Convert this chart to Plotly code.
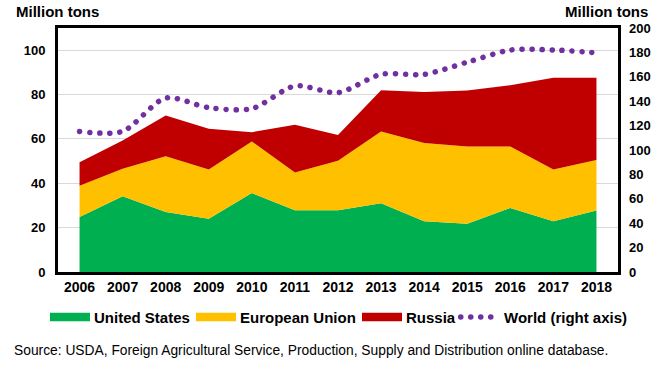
import plotly.graph_objects as go

years = list(range(2006, 2019))
us = [24.8, 34.2, 27.0, 24.0, 35.6, 27.8, 27.8, 31.0, 22.9, 21.7, 28.9, 22.9, 27.7]
eu_cum = [38.9, 46.5, 52.2, 46.2, 58.8, 44.9, 50.2, 63.3, 58.2, 56.6, 56.6, 46.2, 50.5]
ru_cum = [49.5, 59.3, 70.6, 64.6, 63.0, 66.4, 61.8, 81.9, 81.2, 81.8, 84.2, 87.6, 87.6]
world = [115.2, 115.3, 142.6, 134.7, 133.9, 152.5, 147.0, 162.0, 162.0, 172.0, 181.9, 182.0, 179.7]

eu = [round(e - u, 1) for e, u in zip(eu_cum, us)]
russia = [round(r - e, 1) for r, e in zip(ru_cum, eu_cum)]

left_ticks = [0, 20, 40, 60, 80, 100]
right_ticks = list(range(0, 201, 20))
series_names = ["United States", "European Union", "Russia", "World (right axis)"]

GREEN, YELLOW, RED, PURPLE = "#00B050", "#FFC000", "#C00000", "#7030A0"
FONT = "Liberation Sans, Arial, sans-serif"
DOTS = "0.1px,9.9px"

W, H = 660, 373
L, R, T, B = 58, 42, 28, 101
PW, PH = W - L - R, H - T - B


def px(x):
    return (x - L) / PW


def py(y):
    return (H - B - y) / PH


fig = go.Figure()
for name, vals, col in [(series_names[0], us, GREEN),
                        (series_names[1], eu, YELLOW),
                        (series_names[2], russia, RED)]:
    fig.add_trace(go.Scatter(x=years, y=vals, name=name, stackgroup="one",
                             mode="lines", line=dict(width=0, color=col),
                             fillcolor=col, showlegend=False))
fig.add_trace(go.Scatter(x=years, y=world, name=series_names[3], yaxis="y2",
                         mode="lines", showlegend=False,
                         line=dict(color=PURPLE, width=5.5, dash=DOTS,
                                   shape="spline", smoothing=0.8)))

bold15 = dict(size=15, family=FONT, weight="bold")
annotations = [
    dict(text="Million tons", xref="paper", yref="paper", x=px(14), y=py(12),
         xanchor="left", yanchor="middle", showarrow=False, font=bold15),
    dict(text="Million tons", xref="paper", yref="paper", x=px(650), y=py(12),
         xanchor="right", yanchor="middle", showarrow=False, font=bold15),
    dict(text="Source: USDA, Foreign Agricultural Service, Production, Supply and Distribution online database.",
         xref="paper", yref="paper", x=px(12), y=py(350), xanchor="left", yanchor="middle",
         showarrow=False, font=dict(size=13.8, family=FONT)),
]
shapes = []
# legend
leg_y = 317
swatches = [(50, GREEN, 92), (196, YELLOW, 238), (362, RED, 404)]
for (x0, col, tx), name in zip(swatches, series_names[:3]):
    shapes.append(dict(type="rect", xref="paper", yref="paper", x0=px(x0), x1=px(x0 + 40),
                       y0=py(leg_y - 4.3), y1=py(leg_y + 4.3), fillcolor=col,
                       line=dict(width=0)))
    annotations.append(dict(text=name, xref="paper", yref="paper", x=px(tx), y=py(leg_y),
                            xanchor="left", yanchor="middle", showarrow=False, font=bold15))
shapes.append(dict(type="line", xref="paper", yref="paper", x0=px(460.7), x1=px(490.8),
                   y0=py(leg_y), y1=py(leg_y),
                   line=dict(color=PURPLE, width=5.5, dash=DOTS)))
annotations.append(dict(text=series_names[3], xref="paper", yref="paper", x=px(502),
                        y=py(leg_y), xanchor="left", yanchor="middle", showarrow=False,
                        font=bold15))

fig.update_layout(
    width=W, height=H,
    margin=dict(l=L, r=R, t=T, b=B),
    paper_bgcolor="white", plot_bgcolor="white",
    font=dict(family=FONT, color="black"),
    showlegend=False,
    xaxis=dict(range=[2005.5, 2018.5], tickvals=years, ticktext=[str(y) for y in years],
               showgrid=False, zeroline=False, showline=True, linecolor="black",
               linewidth=3, mirror=True, ticks="", automargin=False,
               tickfont=dict(size=14, family=FONT, weight="bold"),
               ticklabelstandoff=0),
    yaxis=dict(range=[0, 110], tickvals=left_ticks, showgrid=True, gridcolor="#d9d9d9",
               gridwidth=1, zeroline=False, showline=True, linecolor="black",
               linewidth=3, mirror=True, ticks="", automargin=False,
               tickfont=dict(size=13, family=FONT, weight="bold"),
               ticklabelstandoff=7),
    yaxis2=dict(range=[0, 200], tickvals=right_ticks, overlaying="y", side="right",
                showgrid=False, zeroline=False, showline=False, ticks="", automargin=False,
                tickfont=dict(size=13, family=FONT, weight="bold"),
                ticklabelstandoff=10),
    annotations=annotations,
    shapes=shapes,
)

post = """
document.documentElement.style.margin = '0';
document.body.style.margin = '0';
document.body.style.padding = '0';
var gd = document.getElementById('{plot_id}');
function roundDots(){
  gd.querySelectorAll('path').forEach(function(p){
    var d = p.style.strokeDasharray || p.getAttribute('stroke-dasharray') || '';
    if (d.indexOf('9.9') >= 0) { p.style.strokeLinecap = 'round'; }
  });
}
roundDots();
gd.on('plotly_afterplot', roundDots);
"""
fig.write_html("out.html", post_script=post, config={"displayModeBar": False})
